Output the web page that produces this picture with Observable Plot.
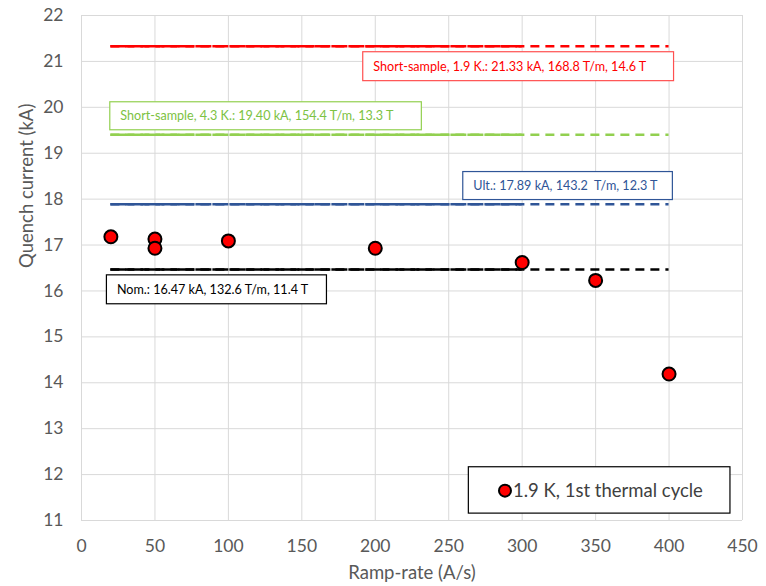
<!DOCTYPE html>
<html>
<head>
<meta charset="utf-8">
<script src="https://cdn.jsdelivr.net/npm/d3@7"></script>
<script src="https://cdn.jsdelivr.net/npm/@observablehq/plot@0.6"></script>
<style>
  html, body { margin: 0; padding: 0; background: #fff; }
  #chart svg { display: block; }
</style>
</head>
<body>
<div id="chart"></div>
<script>
// ---- data ----
const rampRate = [20, 50, 50, 100, 200, 300, 350, 400];
const quenchCurrent = [17.18, 17.13, 16.93, 17.09, 16.93, 16.62, 16.23, 14.19];

const xTicks = [0, 50, 100, 150, 200, 250, 300, 350, 400, 450];
const yTicks = [11, 12, 13, 14, 15, 16, 17, 18, 19, 20, 21, 22];

// reference levels
const refLevels = [21.33, 19.40, 17.89, 16.47];
const refColors = ["#FF0000", "#92D050", "#2F5597", "#000000"];
const refStart = 20, refDenseEnd = 300, refEnd = 400;

// annotation boxes (data units)
const annText = [
  "Short-sample, 1.9 K.: 21.33 kA, 168.8 T/m, 14.6 T",
  "Short-sample, 4.3 K.: 19.40 kA, 154.4 T/m, 13.3 T",
  "Ult.: 17.89 kA, 143.2  T/m, 12.3 T",
  "Nom.: 16.47 kA, 132.6 T/m, 11.4 T"
];
const annX1 = [191.8, 19.6, 259.9, 17.3];
const annX2 = [403.4, 231.7, 402.6, 167.1];
const annY1 = [20.57, 19.50, 17.98, 15.71];
const annY2 = [21.20, 20.11, 18.59, 16.34];
const annStroke = ["#FF5050", "#92D050", "#2F5597", "#000000"];
const annColor = ["#FF0000", "#7CC242", "#2F5597", "#000000"];

// legend (data units)
const legendLabel = "1.9 K, 1st thermal cycle";
const legendBox = {x1: 263.7, x2: 441.8, y1: 11.15, y2: 12.16};
const legendMarker = {x: 288.3, y: 11.65};

const xTitle = "Ramp-rate (A/s)";
const yTitle = "Quench current (kA)";

// ---- build tables ----
const points = rampRate.map((x, i) => ({x, y: quenchCurrent[i]}));
const refs = refLevels.map((y, i) => ({y, color: refColors[i]}));
const anns = annText.map((t, i) => ({t, x1: annX1[i], x2: annX2[i], y1: annY1[i], y2: annY2[i], stroke: annStroke[i], color: annColor[i]}));

const font = "Lato, 'Open Sans', sans-serif";
const gray = "#595959";

const chart = Plot.plot({
  width: 766,
  height: 586,
  marginLeft: 81,
  marginRight: 24,
  marginTop: 15,
  marginBottom: 66,
  style: {fontFamily: font, background: "#fff"},
  x: {domain: [0, 450]},
  y: {domain: [11, 22]},
  marks: [
    Plot.gridX(xTicks, {stroke: "#d9d9d9", strokeOpacity: 1}),
    Plot.gridY(yTicks, {stroke: "#d9d9d9", strokeOpacity: 1}),
    Plot.axisX(xTicks, {tickSize: 0, tickPadding: 19, fontSize: 17.5, color: gray, label: null, tickFormat: d => String(d)}),
    Plot.axisY(yTicks, {tickSize: 0, tickPadding: 18, fontSize: 17.5, color: gray, label: null, tickFormat: d => String(d)}),
    Plot.text([xTitle], {frameAnchor: "bottom", dy: 53, fontSize: 18.5, fill: gray, lineAnchor: "middle"}),
    Plot.text([yTitle], {frameAnchor: "left", dx: -54, rotate: -90, fontSize: 18.5, fill: gray, lineAnchor: "middle"}),
    // reference lines: sparse dashed full extent
    Plot.ruleY(refs, {y: "y", x1: refStart, x2: refEnd, stroke: "color", strokeWidth: 2.5, strokeDasharray: "9,6"}),
    // dense dashed up to 300
    Plot.ruleY(refs, {y: "y", x1: refStart, x2: refDenseEnd, stroke: "color", strokeWidth: 2.5, strokeDasharray: "16,1"}),
    // annotation boxes
    Plot.rect(anns, {x1: "x1", x2: "x2", y1: "y1", y2: "y2", fill: "white", stroke: "stroke", strokeWidth: 1.2}),
    Plot.text(anns, {x: "x1", y: d => (d.y1 + d.y2) / 2, text: "t", dx: 10, textAnchor: "start", fill: "color", fontSize: 12.6}),
    // data points
    Plot.dot(points, {x: "x", y: "y", r: 6.5, fill: "#FF0000", stroke: "#000", strokeWidth: 2}),
    // legend
    Plot.rect([legendBox], {x1: "x1", x2: "x2", y1: "y1", y2: "y2", fill: "white", stroke: "#000", strokeWidth: 1.2}),
    Plot.dot([legendMarker], {x: "x", y: "y", r: 6, fill: "#FF0000", stroke: "#000", strokeWidth: 2}),
    Plot.text([legendLabel], {x: legendMarker.x, y: legendMarker.y, dx: 8, textAnchor: "start", fontSize: 18.5, fill: "#404040"})
  ]
});
document.getElementById("chart").appendChild(chart);
</script>
</body>
</html>
